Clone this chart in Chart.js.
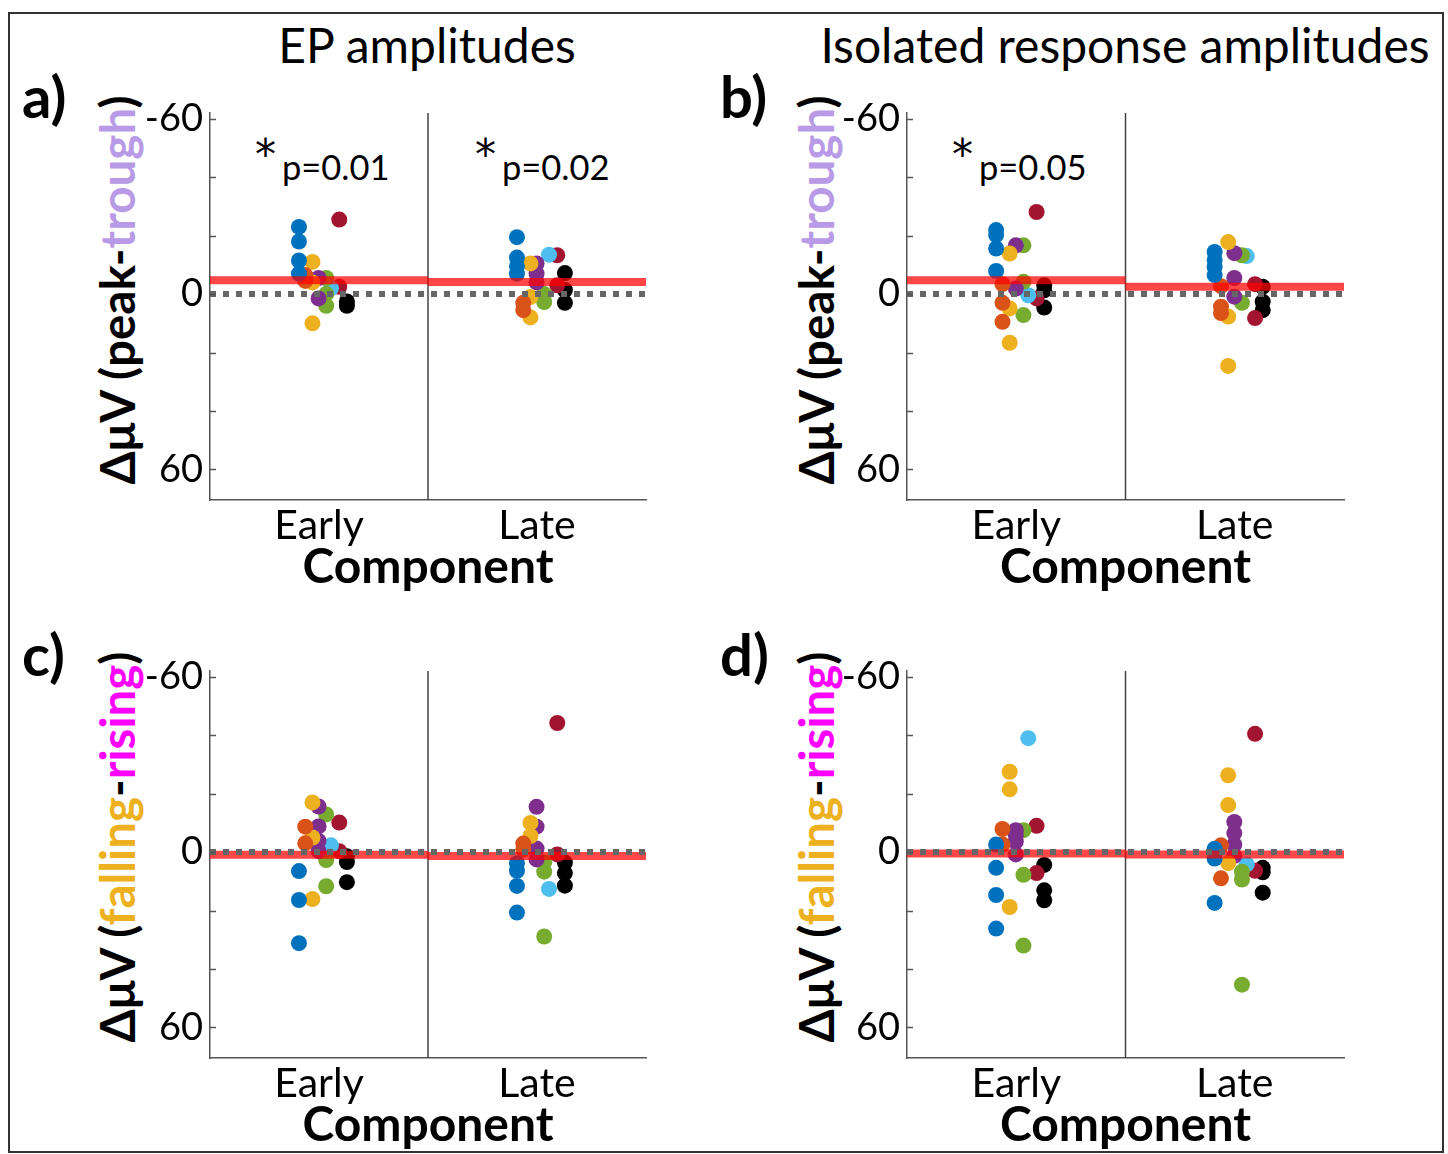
<!DOCTYPE html>
<html>
<head>
<meta charset="utf-8">
<script src="https://cdn.jsdelivr.net/npm/chart.js@4.4.1/dist/chart.umd.min.js"></script>
<style>
  html, body { margin: 0; padding: 0; background: #fff; }
  #page { position: relative; width: 1448px; height: 1154px; overflow: hidden; background: #fff; font-family: Lato, "Open Sans", sans-serif; color: #000; }
  .frame { position: absolute; left: 8px; top: 12px; width: 1432px; height: 1137px; border: 2px solid #333; }
  .txt { position: absolute; white-space: nowrap; line-height: 1; }
  .ctr { transform: translateX(-50%); }
  .ast { position: absolute; white-space: nowrap; line-height: 1; font-family: "DejaVu Sans", sans-serif; font-size: 42px; }
  .ytitle { position: absolute; white-space: nowrap; line-height: 1; font-weight: bold; font-size: 47.5px; transform: translate(-50%, -50%) rotate(-90deg); }
  canvas { position: absolute; }
</style>
</head>
<body>
<div id="page">
  <div class="frame"></div>

  <div class="txt ctr" style="left:427px; top:21px; font-size:48px;">EP amplitudes</div>
  <div class="txt ctr" style="left:1125px; top:21px; font-size:48px;">Isolated response amplitudes</div>

  <div class="txt" style="left:22px; top:67px; font-size:58px; font-weight:bold;">a)</div>
  <div class="txt" style="left:720px; top:67px; font-size:58px; font-weight:bold;">b)</div>
  <div class="txt" style="left:22px; top:625px; font-size:58px; font-weight:bold;">c)</div>
  <div class="txt" style="left:720px; top:625px; font-size:58px; font-weight:bold;">d)</div>

  <div class="ytitle" style="left:117px; top:290px;">ΔμV (peak-<span style="color:#B99AE6">trough</span>)</div>
  <div class="ytitle" style="left:816px; top:290px;">ΔμV (peak-<span style="color:#B99AE6">trough</span>)</div>
  <div class="ytitle" style="left:117px; top:847px;">ΔμV (<span style="color:#EDB120">falling</span>-<span style="color:#FF00FF">rising</span>)</div>
  <div class="ytitle" style="left:816px; top:847px;">ΔμV (<span style="color:#EDB120">falling</span>-<span style="color:#FF00FF">rising</span>)</div>

  <div class="ast" style="left:255px; top:134px;">*</div>
  <div class="txt" style="left:282px; top:150px; font-size:34.5px;">p=0.01</div>
  <div class="ast" style="left:475px; top:134px;">*</div>
  <div class="txt" style="left:502px; top:150px; font-size:34.5px;">p=0.02</div>
  <div class="ast" style="left:952px; top:134px;">*</div>
  <div class="txt" style="left:979px; top:150px; font-size:34.5px;">p=0.05</div>

  <canvas id="cA" width="530" height="523" style="left:130px; top:73px;"></canvas>
  <canvas id="cB" width="531" height="523" style="left:827px; top:73px;"></canvas>
  <canvas id="cC" width="530" height="523" style="left:130px; top:631px;"></canvas>
  <canvas id="cD" width="531" height="523" style="left:827px; top:631px;"></canvas>
</div>

<script>
// ---------- data ----------
const categories = ['Early', 'Late'];
const subjectColors = ['#0072BD', '#D95319', '#EDB120', '#7E2F8E', '#77AC30', '#4DBEEE', '#A2142F', '#000000'];
const subjectOffsets = [-0.092, -0.063, -0.030, -0.002, 0.033, 0.055, 0.093, 0.128];
const yTickValues = [-60, -40, -20, 0, 20, 40, 60];
const yTickLabels = ['-60', '', '', '0', '', '', '60'];

// panel a: EP amplitudes, peak-trough
const aEarly = [[-23, -18, -11.5, -7], [-6.5, -4.5], [-11, -4, 10], [-5.5, 1.5], [-5.5, 0, 4], [-2], [-25.5, -2.5], [2.5, 4]];
const aLate  = [[-19.5, -12.5, -9.5, -7], [3, 5.5], [-10.5, 1, 8], [-10.5, -7, -4], [0, 2.7], [-13.5], [-13.3, -3], [-7.2, -1.4, 3]];
const aMeans = [-4.7, -4.1];

// panel b: isolated response amplitudes, peak-trough
const bEarly = [[-21.9, -20.2, -15.6, -7.9], [-3.4, 3.0, 9.5], [-13.9, 4.9, 16.7], [-16.7, -1.9], [-16.7, -4.2, 7.2], [0.4], [-28.1, 1.5], [-3, -1.3, 4.6]];
const bLate  = [[-14.4, -11.6, -9.3, -6.5], [-2.7, 4.3, 6.5], [-17.8, 7.7, 24.6], [-14, -5.5, 0.9], [-13.3, 3], [-13], [-3.4, 8.2], [-2.5, 2.6, 5.5]];
const bMeans = [-4.75, -2.5];

// panel c: EP amplitudes, falling-rising
const cEarly = [[6.5, 16.4, 31.2], [-8.7, -3.0], [-17, -5, 16.1], [-15.6, -8.8, -3.8, -0.3], [-12.9, 2.7, 11.7], [-2.3], [-10.1, -0.3], [1.4, 3.4, 10.3]];
const cLate  = [[3.8, 6.4, 11.6, 20.7], [-2.9, -0.9], [-10, -5.5], [-15.5, -8.7, -1.2, 2.5], [3.5, 6.7, 28.9], [12.6], [-44.2, 0.8], [3.6, 7.2, 11.5]];
const cMeans = [0.9, 1.3];

// panel d: isolated response amplitudes, falling-rising
const dEarly = [[-2.6, 5.4, 14.7, 26.2], [-7.9, -2.6], [-27.5, -21.5, 18.8], [-7.5, -5.8, -3.6, 0.8], [-7.5, 7.8, 32], [-39], [-9, 7.2], [4.4, 13.1, 16.5]];
const dLate  = [[-1.1, 2.2, 17.4], [-2.3, 9], [-26.3, -16.1, 3.8], [-10.3, -6.5, -2.6, 1.3], [6.7, 9.4, 45.4], [4.2], [-40.5, 6.4], [5.4, 6.9, 13.9]];
const dMeans = [0.5, 0.8];

const yMin = -62, yMax = 70.5;

// ---------- chart ----------
Chart.defaults.font.family = 'Lato, "Open Sans", sans-serif';
Chart.defaults.color = '#000';

const innerTicks = {
  id: 'innerTicks',
  afterDraw(chart) {
    const ys = chart.scales.y, ca = chart.chartArea, ctx = chart.ctx;
    ctx.save();
    ctx.strokeStyle = '#555';
    ctx.lineWidth = 1.5;
    yTickValues.forEach(v => {
      const py = Math.round(ys.getPixelForValue(v)) + 0.5;
      ctx.beginPath();
      ctx.moveTo(ca.left, py);
      ctx.lineTo(ca.left + 6, py);
      ctx.stroke();
    });
    ctx.restore();
  }
};

function makePanel(id, early, late, means) {
  const datasets = [];
  datasets.push({
    type: 'line', order: 0,
    data: [{x: 0, y: 0}, {x: 2, y: 0}],
    borderColor: '#666', borderWidth: 6, borderDash: [6, 7],
    pointRadius: 0, fill: false
  });
  means.forEach((m, i) => {
    datasets.push({
      type: 'line', order: 1,
      data: [{x: i, y: m}, {x: i + 1, y: m}],
      borderColor: 'rgba(255,0,0,0.72)', borderWidth: 8,
      pointRadius: 0, fill: false
    });
  });
  datasets.push({
    type: 'line', order: 1,
    data: [{x: 1, y: yMin}, {x: 1, y: yMax}],
    borderColor: '#444', borderWidth: 1.5,
    pointRadius: 0, fill: false
  });
  subjectColors.forEach((col, s) => {
    const pts = [];
    early[s].forEach(v => pts.push({x: 0.5 + subjectOffsets[s], y: v}));
    late[s].forEach(v => pts.push({x: 1.5 + subjectOffsets[s], y: v}));
    datasets.push({
      type: 'scatter', order: 2,
      data: pts,
      backgroundColor: col, borderWidth: 0,
      pointRadius: 8, pointHoverRadius: 8
    });
  });

  return new Chart(document.getElementById(id), {
    type: 'scatter',
    data: { datasets },
    plugins: [innerTicks],
    options: {
      responsive: false,
      animation: false,
      devicePixelRatio: 1,
      layout: { padding: { left: 0, right: 14, top: 40, bottom: 0 } },
      plugins: { legend: { display: false }, tooltip: { enabled: false } },
      scales: {
        x: {
          type: 'linear', min: 0, max: 2,
          grid: { display: false, drawTicks: false },
          border: { display: true, color: '#555', width: 1.5 },
          afterBuildTicks: sc => { sc.ticks = [{value: 0.5}, {value: 1.5}]; },
          afterFit: sc => { sc.height = 96; },
          ticks: {
            padding: 1,
            font: { size: 41 },
            maxRotation: 0,
            callback: (v, i) => categories[i]
          },
          title: {
            display: true, text: 'Component',
            font: { size: 48, weight: 'bold' },
            padding: { top: 0, bottom: 0 }
          }
        },
        y: {
          type: 'linear', reverse: true, min: yMin, max: yMax,
          grid: { display: false, drawTicks: false },
          border: { display: true, color: '#555', width: 1.5 },
          afterBuildTicks: sc => { sc.ticks = yTickValues.map(v => ({value: v})); },
          afterFit: sc => { sc.width = 80; },
          ticks: {
            padding: 7,
            font: { size: 38 },
            callback: (v, i) => yTickLabels[i]
          }
        }
      }
    }
  });
}

makePanel('cA', aEarly, aLate, aMeans);
makePanel('cB', bEarly, bLate, bMeans);
makePanel('cC', cEarly, cLate, cMeans);
makePanel('cD', dEarly, dLate, dMeans);
</script>
</body>
</html>
